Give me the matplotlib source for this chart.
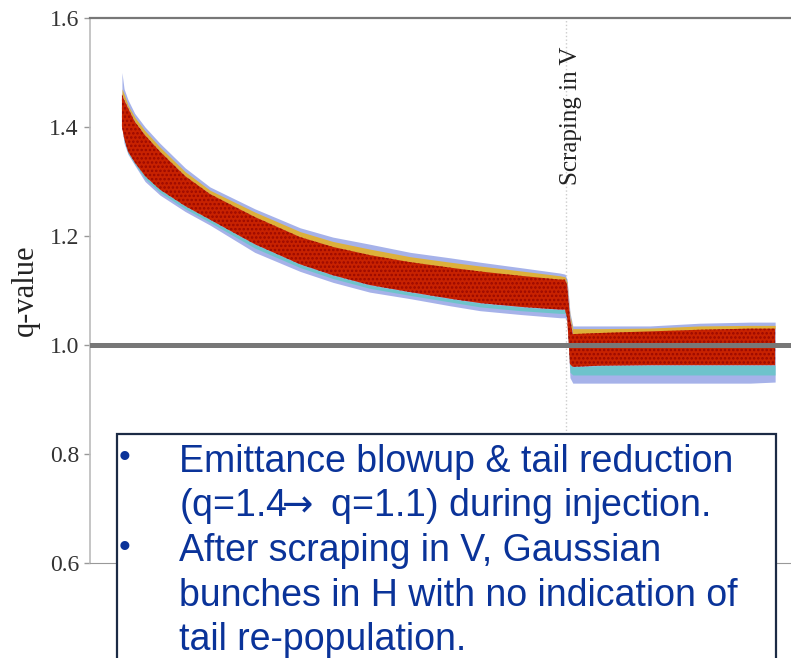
import matplotlib.pyplot as plt
from matplotlib.patches import Rectangle

# time axis (arbitrary units, no ticks shown) and envelopes of the q-value cloud
x_pos = [4.5, 4.8, 5.35, 6.3, 7.75, 9.86, 13.4, 16.9, 23.2, 29.6, 34.2, 39.4, 45.1,
         50.7, 54.9, 60.6, 66.2, 66.9, 67.2, 67.6, 68.0, 71.8, 78.9, 85.9, 93.0, 96.5]
outer_hi = [1.50, 1.47, 1.45, 1.425, 1.40, 1.37, 1.325, 1.29, 1.25, 1.215, 1.198, 1.185, 1.170,
            1.160, 1.152, 1.142, 1.132, 1.130, 1.120, 1.060, 1.035, 1.035, 1.035, 1.040, 1.042, 1.042]
mid_hi = [1.47, 1.46, 1.44, 1.418, 1.393, 1.363, 1.318, 1.284, 1.244, 1.208, 1.19, 1.176, 1.162,
          1.152, 1.145, 1.136, 1.127, 1.125, 1.115, 1.055, 1.03, 1.03, 1.031, 1.035, 1.036, 1.036]
core_hi = [1.46, 1.45, 1.435, 1.41, 1.385, 1.355, 1.31, 1.277, 1.235, 1.198, 1.18, 1.165, 1.152,
           1.142, 1.135, 1.127, 1.12, 1.12, 1.11, 1.05, 1.02, 1.022, 1.025, 1.028, 1.03, 1.03]
core_lo = [1.40, 1.38, 1.355, 1.335, 1.31, 1.285, 1.255, 1.23, 1.185, 1.148, 1.128, 1.11, 1.097,
           1.085, 1.077, 1.07, 1.065, 1.065, 1.05, 0.965, 0.96, 0.962, 0.963, 0.963, 0.963, 0.963]
mid_lo = [1.40, 1.375, 1.352, 1.332, 1.305, 1.28, 1.25, 1.225, 1.178, 1.142, 1.122, 1.104, 1.091,
          1.079, 1.07, 1.063, 1.058, 1.058, 1.048, 0.95, 0.945, 0.945, 0.945, 0.945, 0.945, 0.945]
outer_lo = [1.40, 1.37, 1.35, 1.33, 1.30, 1.275, 1.245, 1.22, 1.170, 1.135, 1.115, 1.097, 1.085,
            1.072, 1.063, 1.056, 1.050, 1.050, 1.045, 0.94, 0.93, 0.93, 0.93, 0.93, 0.93, 0.932]

scraping_x = 67.0
y_ticks = [0.6, 0.8, 1.0, 1.2, 1.4, 1.6]
y_tick_labels = ['0.6', '0.8', '1.0', '1.2', '1.4', '1.6']

note_lines = ['Emittance blowup & tail reduction',
              '(q=1.4$\\!\\!\\rightarrow$ q=1.1) during injection.',
              'After scraping in V, Gaussian',
              'bunches in H with no indication of',
              'tail re-population.']
bullet_rows = [0, 2]

W, H = 791, 658


def draw_cloud(ax):
    plt.rcParams['hatch.linewidth'] = 1.2
    ax.fill_between(x_pos, outer_lo, outer_hi, color='#3a55d0', alpha=0.45, lw=0, zorder=2)
    ax.fill_between(x_pos, mid_lo, core_lo, color='#4ad0b8', alpha=0.6, lw=0, zorder=3)
    ax.fill_between(x_pos, core_hi, mid_hi, color='#f0b000', alpha=0.75, lw=0, zorder=3)
    ax.fill_between(x_pos, core_lo, core_hi, facecolor='#c82200', edgecolor='#9a0800',
                    hatch='....', lw=0, zorder=4)


def draw_note(fig):
    box = Rectangle((117 / W, -0.1), (776 - 117) / W, 0.1 + (H - 434) / H,
                    transform=fig.transFigure, facecolor='white', edgecolor='#1c2b45',
                    lw=1.6, zorder=10)
    fig.add_artist(box)
    baselines = [472, 516.5, 561, 605.5, 650]
    for i, line in enumerate(note_lines):
        fig.text(179 / W, 1 - baselines[i] / H, line, fontsize=27, color='#0a3399',
                 family=['Liberation Sans', 'DejaVu Sans'], va='baseline', ha='left', zorder=11)
    for i in bullet_rows:
        fig.text(124 / W, 1 - (baselines[i] - 13) / H, '\u2022', fontsize=24, color='#0a3399',
                 family=['Liberation Sans', 'DejaVu Sans'], va='center', ha='center', zorder=11)


if __name__ == '__main__':
    fig = plt.figure(figsize=(W / 100, H / 100), dpi=100)
    ax = fig.add_axes([90 / W, (H - 563) / H, 710 / W, 545 / H])
    ax.set_xlim(0, 100)
    ax.set_ylim(0.6, 1.6)

    ax.axvline(scraping_x, color='#cccccc', lw=1, ls=':', zorder=1)
    draw_cloud(ax)
    ax.axhline(1.0, color='#777777', lw=3.6, zorder=6)

    ax.text(scraping_x + 0.7, 1.547, 'Scraping in V', rotation=90, ha='center', va='top',
            fontsize=18, family='Liberation Serif', color='#222222')

    ax.set_xticks([])
    ax.set_yticks(y_ticks)
    ax.set_yticklabels(y_tick_labels, family='Liberation Serif', fontsize=17, color='#333333')
    ax.tick_params(axis='y', length=4, width=1, color='#999999', pad=4)
    ax.set_ylabel('q-value', family='Liberation Serif', fontsize=22, color='#222222')
    ax.yaxis.set_label_coords(-0.07, 0.5)

    ax.spines['top'].set_color('#777777')
    ax.spines['top'].set_linewidth(1.6)
    ax.spines['left'].set_color('#bbbbbb')
    ax.spines['left'].set_linewidth(1.2)
    ax.spines['bottom'].set_color('#999999')
    ax.spines['right'].set_visible(False)

    draw_note(fig)
    fig.savefig('out.png', dpi=100)
